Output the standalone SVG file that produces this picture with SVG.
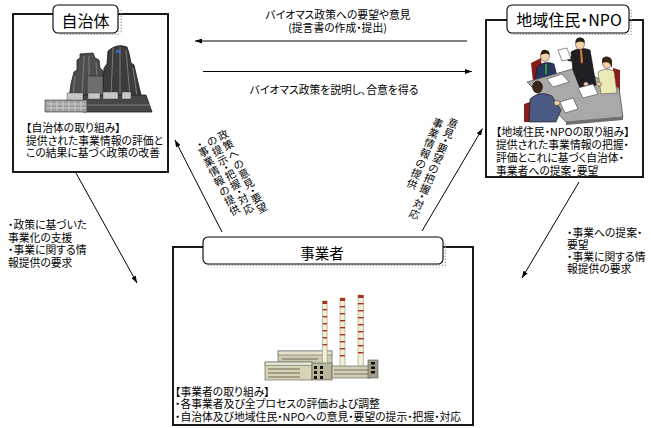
<svg xmlns="http://www.w3.org/2000/svg" width="651" height="428" viewBox="0 0 651 428">
  <defs>
    <style>
      .t { font-family: "Noto Sans CJK JP", "Noto Sans", sans-serif; font-size: 10.8px; fill: #000; font-feature-settings: "palt"; }
      .v { font-family: "Noto Sans CJK JP", "Noto Sans", sans-serif; font-size: 10.5px; fill: #000; text-anchor: middle; }
      .c { text-anchor: middle; }
      .ttl { font-family: "Noto Sans CJK JP", "Noto Sans", sans-serif; font-size: 16px; fill: #000; text-anchor: middle; font-feature-settings: "palt"; }
      .box { fill: #fff; stroke: #000; stroke-width: 1.8; }
      .tab { fill: #fff; stroke: #000; stroke-width: 1.1; }
      .shadow { fill: url(#dots); stroke: none; }
      .conn { fill: none; stroke: #000; stroke-width: 1; marker-end: url(#ah); }
      .chim { fill: #f2eed8; stroke: #8a866e; stroke-width: 0.5; }
      .band { fill: #a8321f; }
      .skin { fill: #f1cfa8; stroke: #333; stroke-width: 0.5; }
    </style>
    <pattern id="dots" width="3" height="3" patternUnits="userSpaceOnUse">
      <rect x="0.6" y="0.6" width="1.3" height="1.3" fill="#9d9d9d"/>
    </pattern>
    <marker id="ah" viewBox="0 0 7 5" refX="7" refY="2.5" markerWidth="7" markerHeight="5" markerUnits="userSpaceOnUse" orient="auto">
      <path d="M0,0 L7,2.5 L0,5 z" fill="#000"/>
    </marker>
  </defs>

  <rect width="651" height="428" fill="#fff"/>

  <!-- connectors -->
  <g id="connectors">
    <line class="conn" x1="467" y1="41" x2="195" y2="41"/>
    <line class="conn" x1="203" y1="71.5" x2="472" y2="71.5"/>
    <line class="conn" x1="222" y1="232" x2="175" y2="140"/>
    <line class="conn" x1="422" y1="231" x2="482.5" y2="128.5"/>
    <line class="conn" x1="76" y1="173" x2="137" y2="283"/>
    <line class="conn" x1="579" y1="182" x2="522" y2="278"/>

    <text class="t c" x="338" y="19">バイオマス政策への要望や意見</text>
    <text class="t c" x="337.5" y="32">(提言書の作成・提出)</text>
    <text class="t c" x="334" y="94">バイオマス政策を説明し、合意を得る</text>

    <!-- vertical label, tilted, beside the left rising arrow -->
    <g transform="translate(223,135) rotate(-28)">
      <text class="v" x="0 0 0 0 0 0 0 0 0" y="4 15 26 37 48 59 67.25 75.5 86.5">政策への意見・要望</text>
      <text class="v" x="-12.4 -12.4 -12.4 -12.4 -12.4 -12.4 -12.4 -12.4 -12.4" y="4 15 26 34.25 42.5 53.5 61.75 70 81">の提示・把握・対応</text>
      <text class="v" x="-25 -25 -25 -25 -25 -25 -25 -25" y="1.5 9.75 20.75 31.75 42.75 53.75 64.75 75.75">・事業情報の提供</text>
    </g>

    <!-- vertical label, tilted, beside the right rising arrow -->
    <g transform="translate(453,123) rotate(23)">
      <text class="v" x="0 0 0 0 0 0 0 0 0 0 0" y="4 15 23.25 31.5 42.5 53.5 64.5 75.5 83.75 92 103">意見・要望の把握・対応</text>
      <text class="v" x="-13.8 -13.8 -13.8 -13.8 -13.8 -13.8 -13.8" y="9.9 20.9 31.9 42.9 53.9 64.9 75.9">事業情報の提供</text>
    </g>

    <text class="t" x="8" y="229">・政策に基づいた</text>
    <text class="t" x="8" y="241.5">事業化の支援</text>
    <text class="t" x="8" y="254">・事業に関する情</text>
    <text class="t" x="8" y="266.5">報提供の要求</text>

    <text class="t" x="567" y="237">・事業への提案・</text>
    <text class="t" x="567" y="249">要望</text>
    <text class="t" x="567" y="261">・事業に関する情</text>
    <text class="t" x="567" y="273">報提供の要求</text>
  </g>

  <!-- local government -->
  <g id="node-jichitai">
    <rect class="box" x="13" y="14" width="155" height="158"/>
    <rect class="shadow" x="57" y="8" width="65" height="27" rx="4"/>
    <rect class="tab" x="53" y="5" width="65" height="28" rx="5"/>
    <text class="ttl" x="85.5" y="27">自治体</text>

    <!-- twin-tower city hall -->
    <g id="cityhall-art" stroke-linejoin="round">
      <polygon points="80,54 93,53 95,58 99,60 100,68 103,71 104,98 69,98 71,84 74,72 77,70 77,60 80,58" fill="#4d4d4d" stroke="#1c1c1c" stroke-width="0.8"/>
      <path d="M102,98 L104,68 L107,64 L108,51 Q117,43 127,47 L129,53 L131,63 L134,65 L137,78 L142,99 Z" fill="#3c3c3c" stroke="#1a1a1a" stroke-width="0.8"/>
      <g stroke="#8a8a8a" stroke-width="0.8">
        <line x1="84" y1="56" x2="82" y2="96"/>
        <line x1="89" y1="56" x2="89" y2="96"/>
        <line x1="75" y1="76" x2="73" y2="96"/>
        <line x1="96" y1="62" x2="98" y2="96"/>
        <line x1="113" y1="48" x2="111" y2="96"/>
        <line x1="120" y1="47" x2="120" y2="96"/>
        <line x1="126" y1="50" x2="130" y2="96"/>
        <line x1="133" y1="68" x2="137" y2="96"/>
      </g>
      <rect x="87" y="76" width="16" height="22" fill="#6e6e6e" stroke="#222" stroke-width="0.6"/>
      <rect x="116" y="50" width="4" height="3" fill="#3a68c8"/>
      <polygon points="83,95 146,95 152,112 83,112" fill="#474747" stroke="#1c1c1c" stroke-width="0.8"/>
      <rect x="45" y="100" width="42" height="12" fill="#9e9e9e" stroke="#333" stroke-width="0.6"/>
      <g stroke="#dcdcdc" stroke-width="0.7">
        <line x1="46" y1="104" x2="86" y2="104"/>
        <line x1="46" y1="108" x2="86" y2="108"/>
        <line x1="51" y1="101" x2="51" y2="111"/>
        <line x1="57" y1="101" x2="57" y2="111"/>
        <line x1="63" y1="101" x2="63" y2="111"/>
        <line x1="69" y1="101" x2="69" y2="111"/>
        <line x1="75" y1="101" x2="75" y2="111"/>
        <line x1="81" y1="101" x2="81" y2="111"/>
      </g>
      <g fill="#c6c6c6" stroke="#333" stroke-width="0.4">
        <rect x="67" y="93" width="16" height="7"/>
        <rect x="88" y="93" width="12" height="6"/>
        <rect x="103" y="92" width="15" height="7"/>
        <rect x="122" y="92" width="9" height="7"/>
      </g>
      <line x1="86" y1="105" x2="150" y2="105" stroke="#8a8a8a" stroke-width="0.8"/>
    </g>

    <text class="t" x="26" y="132">【自治体の取り組み】</text>
    <text class="t" x="26" y="144.5">提供された事業情報の評価と</text>
    <text class="t" x="26" y="157.3">この結果に基づく政策の改善</text>
  </g>

  <!-- residents / NPO -->
  <g id="node-npo">
    <rect class="box" x="486" y="20" width="157" height="157"/>
    <rect class="shadow" x="511" y="9" width="122" height="27" rx="4"/>
    <rect class="tab" x="507" y="5" width="122" height="28" rx="5"/>
    <text class="ttl" x="569" y="26">地域住民・NPO</text>

    <!-- meeting scene -->
    <g id="meeting-art" stroke-linejoin="round">
      <path d="M531,63 L541,58 L543,80 L533,82 Z" fill="#8b1c1c"/>
      <path d="M613,68 L620,70 L620,94 L613,94 Z" fill="#8b1c1c"/>
      <path d="M535,80 L537,67 Q545,60 554,64 L558,80 Z" fill="#27355f" stroke="#111" stroke-width="0.6"/>
      <path d="M545,64 L547,64 L547,74 L545,74 Z" fill="#2c9a3c"/>
      <ellipse class="skin" cx="545" cy="56" rx="4.5" ry="5.5"/>
      <path d="M540.5,55 Q541,49 546,50 Q550,51 549.5,55 Q547,52 540.5,55 Z" fill="#2a1d12"/>

      <polygon points="527,82 576,68 619,88 623,117 566,122" fill="#a9a9a9" stroke="#555" stroke-width="0.8"/>
      <polygon points="566,122 623,117 623,120 566,125" fill="#6e6e6e"/>

      <path d="M571,52 Q580,46 590,50 L596,85 L580,88 L573,70 Z" fill="#1f1f25" stroke="#000" stroke-width="0.6"/>
      <path d="M580,50 L582,50 L583,62 L581,64 Z" fill="#d9822b"/>
      <path d="M573,56 L566,58 L568,61 L576,62 Z" fill="#1f1f25"/>
      <ellipse class="skin" cx="580" cy="44" rx="4.5" ry="5.5"/>
      <path d="M575.5,43 Q575,37 581,37.5 Q585.5,38.5 584.5,43 Q581,40 575.5,43 Z" fill="#2a1d12"/>
      <polygon points="558,50 567,48 571,59 562,61" fill="#fff" stroke="#444" stroke-width="0.6"/>
      <ellipse class="skin" cx="586" cy="84" rx="2.5" ry="2"/>

      <path d="M598,72 Q606,67 614,71 L617,93 L601,94 Z" fill="#ecebb6" stroke="#555" stroke-width="0.6"/>
      <ellipse class="skin" cx="607" cy="63" rx="4.5" ry="5.5"/>
      <path d="M602,63 Q601,56 607,56.5 Q613,57 612,64 L612,68 Q610,60 602,63 Z" fill="#3b2614"/>
      <ellipse class="skin" cx="599" cy="84" rx="2.5" ry="2"/>

      <polygon points="547,79 562,74 569,82 553,87" fill="#fff" stroke="#444" stroke-width="0.6"/>
      <polygon points="578,88 593,84 598,94 583,98" fill="#fff" stroke="#444" stroke-width="0.6"/>
      <polygon points="560,102 573,98 578,109 565,113" fill="#fff" stroke="#444" stroke-width="0.6"/>

      <path d="M524,104 L536,100 L538,122 L524,122 Z" fill="#8b1c1c"/>
      <path d="M529,122 L530,99 Q540,90 552,96 L561,110 L556,122 Z" fill="#4a5a82" stroke="#111" stroke-width="0.6"/>
      <ellipse cx="537.5" cy="87" rx="5" ry="6" fill="#3a2816" stroke="#111" stroke-width="0.5"/>
      <ellipse class="skin" cx="557" cy="103" rx="3" ry="2.5"/>
    </g>

    <text class="t" x="496" y="135.5">【地域住民・NPOの取り組み】</text>
    <text class="t" x="496" y="148.7">提供された事業情報の把握・</text>
    <text class="t" x="496" y="162">評価とこれに基づく自治体・</text>
    <text class="t" x="496" y="175">事業者への提案・要望</text>
  </g>

  <!-- business operators -->
  <g id="node-jigyosha">
    <rect class="box" x="173" y="247" width="300" height="178"/>
    <rect class="shadow" x="207" y="241" width="240" height="27" rx="4"/>
    <rect class="tab" x="203" y="237" width="240" height="27" rx="5"/>
    <text class="ttl" x="322" y="259" style="font-size:14.5px">事業者</text>

    <!-- plant with three stacks -->
    <g id="plant-art">
      <rect x="278" y="351" width="54" height="20" fill="#cfcbb0" stroke="#555" stroke-width="0.6"/>
      <rect x="278" y="351" width="54" height="4" fill="#e2dfcb" stroke="#555" stroke-width="0.5"/>

      <rect class="chim" x="322.5" y="301" width="4.6" height="66"/>
      <rect class="chim" x="340" y="298" width="5" height="69"/>
      <rect class="chim" x="358" y="295" width="5.5" height="74"/>
      <g class="band">
        <rect x="322.5" y="301" width="4.6" height="3"/>
        <rect x="322.5" y="309" width="4.6" height="1.4"/>
        <rect x="322.5" y="316" width="4.6" height="1.4"/>
        <rect x="322.5" y="323" width="4.6" height="1.4"/>
        <rect x="322.5" y="330" width="4.6" height="1.4"/>
        <rect x="322.5" y="337" width="4.6" height="1.4"/>
        <rect x="322.5" y="344" width="4.6" height="1.4"/>
        <rect x="340" y="298" width="5" height="3"/>
        <rect x="340" y="306" width="5" height="1.4"/>
        <rect x="340" y="313" width="5" height="1.4"/>
        <rect x="340" y="320" width="5" height="1.4"/>
        <rect x="340" y="327" width="5" height="1.4"/>
        <rect x="340" y="334" width="5" height="1.4"/>
        <rect x="340" y="341" width="5" height="1.4"/>
        <rect x="340" y="348" width="5" height="1.4"/>
        <rect x="340" y="355" width="5" height="1.4"/>
        <rect x="358" y="295" width="5.5" height="3"/>
        <rect x="358" y="303" width="5.5" height="1.4"/>
        <rect x="358" y="310" width="5.5" height="1.4"/>
        <rect x="358" y="317" width="5.5" height="1.4"/>
        <rect x="358" y="324" width="5.5" height="1.4"/>
        <rect x="358" y="331" width="5.5" height="1.4"/>
        <rect x="358" y="338" width="5.5" height="1.4"/>
        <rect x="358" y="345" width="5.5" height="1.4"/>
        <rect x="358" y="352" width="5.5" height="1.4"/>
      </g>

      <rect x="265" y="362" width="47" height="18" fill="#d8d4b8" stroke="#555" stroke-width="0.6"/>
      <rect x="265" y="362" width="47" height="3.5" fill="#e6e3d0" stroke="#555" stroke-width="0.5"/>
      <g stroke="#5e5b4c" stroke-width="0.9">
        <line x1="268" y1="369" x2="300" y2="369"/>
        <line x1="268" y1="373" x2="300" y2="373"/>
        <line x1="268" y1="377" x2="300" y2="377"/>
        <line x1="282" y1="359" x2="318" y2="359"/>
      </g>
      <rect x="312" y="363" width="20" height="17" fill="#bab69c" stroke="#555" stroke-width="0.6"/>
      <g fill="#111">
        <rect x="314" y="366" width="3" height="3"/>
        <rect x="314" y="371" width="3" height="3"/>
        <rect x="314" y="376" width="3" height="3"/>
        <rect x="320" y="366" width="3" height="3"/>
        <rect x="320" y="371" width="3" height="3"/>
        <rect x="320" y="376" width="3" height="3"/>
      </g>
      <rect x="332" y="366" width="38" height="12" fill="#d2ceb4" stroke="#555" stroke-width="0.6"/>
      <g stroke="#5e5b4c" stroke-width="0.8">
        <line x1="334" y1="370" x2="368" y2="370"/>
        <line x1="334" y1="374" x2="368" y2="374"/>
      </g>
      <rect x="368" y="360" width="10" height="18" fill="#a29e88" stroke="#555" stroke-width="0.6"/>
      <g fill="#111">
        <rect x="371" y="362" width="4" height="2.5"/>
        <rect x="371" y="366.5" width="4" height="2.5"/>
        <rect x="371" y="371" width="4" height="2.5"/>
      </g>
    </g>

    <text class="t" x="175" y="396">【事業者の取り組み】</text>
    <text class="t" x="175" y="408">・各事業者及び全プロセスの評価および調整</text>
    <text class="t" x="175" y="420.5">・自治体及び地域住民・NPOへの意見・要望の提示・把握・対応</text>
  </g>
</svg>
